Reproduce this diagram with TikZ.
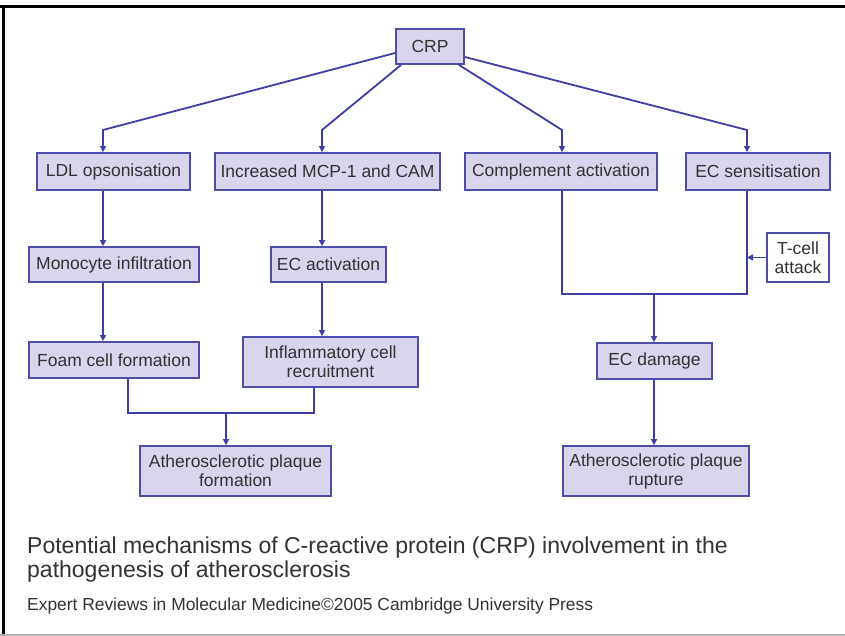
\documentclass[tikz,border=0pt]{standalone}
\usepackage{fontspec}
\setmainfont{Liberation Sans}
\usetikzlibrary{arrows.meta}
\definecolor{boxfill}{RGB}{216,213,237}
\definecolor{boxline}{RGB}{78,78,168}
\definecolor{conn}{RGB}{62,62,165}
\definecolor{txt}{RGB}{50,50,50}
\begin{document}
\begin{tikzpicture}[x=1pt,y=-1pt,
  bx/.style={draw=boxline,fill=boxfill,line width=1.8pt,inner sep=0pt,align=center,
    text=txt,font=\fontsize{17.5}{18}\selectfont},
  bx2/.style={bx,font=\fontsize{17.5}{19}\selectfont},
  wbx/.style={bx2,fill=white},
  ln/.style={draw=conn,line width=1.8pt},
  arr/.style={ln,-{Triangle[length=6pt,width=6pt]}},
  captxt/.style={anchor=west,inner sep=0pt,text=txt,align=left}]
\useasboundingbox (0,0) rectangle (845,636);
\fill[white] (0,0) rectangle (845,636);
% frame
\draw[black,line width=3pt] (0,6.5) -- (845,6.5);
\draw[black,line width=3pt] (3.5,5) -- (3.5,636);
\draw[gray!60,line width=1.5pt] (0,635) -- (845,635);
% boxes
\node[bx,minimum width=68pt,minimum height=35pt] (crp) at (430,46.5) {CRP};
\node[bx,minimum width=153pt,minimum height=37pt] (ldl) at (113.5,171.5) {LDL opsonisation};
\node[bx,minimum width=225pt,minimum height=37pt] (mcp) at (327.5,171.5) {Increased MCP-1 and CAM};
\node[bx,minimum width=192pt,minimum height=37pt] (comp) at (561,171.5) {Complement activation};
\node[bx,minimum width=144pt,minimum height=37pt] (ecs) at (758,171.5) {EC sensitisation};
\node[bx,minimum width=170pt,minimum height=35pt] (mono) at (114,264.5) {Monocyte infiltration};
\node[bx,minimum width=115pt,minimum height=35pt] (eca) at (328.5,264.5) {EC activation};
\node[wbx,minimum width=62pt,minimum height=49pt] (tcell) at (798,257.5) {T-cell\\attack};
\node[bx,minimum width=170pt,minimum height=36pt] (foam) at (114,360) {Foam cell formation};
\node[bx2,minimum width=175pt,minimum height=50pt] (infl) at (330.5,362) {Inflammatory cell\\recruitment};
\node[bx,minimum width=115pt,minimum height=36pt] (ecd) at (654.5,361) {EC damage};
\node[bx2,minimum width=191pt,minimum height=50pt] (apf) at (235.5,471) {Atherosclerotic plaque\\formation};
\node[bx2,minimum width=186pt,minimum height=50pt] (apr) at (656,471) {Atherosclerotic plaque\\rupture};
% bend coordinates
\coordinate (b1) at (103,130);
\coordinate (b2) at (322,130);
\coordinate (b3) at (562,130);
\coordinate (b4) at (747,130);
\coordinate (j1) at (562,294);
\coordinate (j2) at (747,294);
\coordinate (jm) at (654,294);
\coordinate (tj) at (747,257.5);
\coordinate (f1) at (128,413);
\coordinate (f2) at (314,413);
\coordinate (fm) at (226,413);
% connectors from CRP
\draw[arr] ([yshift=-6.5pt]crp.west) -- (b1) -- (ldl.north -| b1);
\draw[arr] ([xshift=6pt]crp.south west) -- (b2) -- (mcp.north -| b2);
\draw[arr] ([xshift=-6pt]crp.south east) -- (b3) -- (comp.north -| b3);
\draw[arr] ([yshift=-10.5pt]crp.east) -- (b4) -- (ecs.north -| b4);
% left column
\draw[arr] (ldl.south -| b1) -- (mono.north -| b1);
\draw[arr] (mono.south -| b1) -- (foam.north -| b1);
\draw[arr] (mcp.south -| b2) -- (eca.north -| b2);
\draw[arr] (eca.south -| b2) -- (infl.north -| b2);
\draw[ln] (foam.south -| f1) -- (f1) -- (f2) -- (infl.south -| f2);
\draw[arr] (fm) -- (apf.north -| fm);
% right side
\draw[ln] (comp.south -| b3) -- (j1) -- (j2) -- (ecs.south -| b4);
\draw[arr] (tcell.west) -- (tj);
\draw[arr] (jm) -- (ecd.north -| jm);
\draw[arr] (ecd.south -| jm) -- (apr.north -| jm);
% caption
\node[captxt,font=\fontsize{23}{24}\selectfont] (cap1) at (27,548) {Potential mechanisms of C-reactive protein (CRP) involvement in the};
\node[captxt,font=\fontsize{23}{24}\selectfont] (cap2) at (27,572) {pathogenesis of atherosclerosis};
\node[captxt,font=\fontsize{17.4}{18}\selectfont] (foot) at (27,606) {Expert Reviews in Molecular Medicine\textcopyright 2005 Cambridge University Press};
\end{tikzpicture}
\end{document}
